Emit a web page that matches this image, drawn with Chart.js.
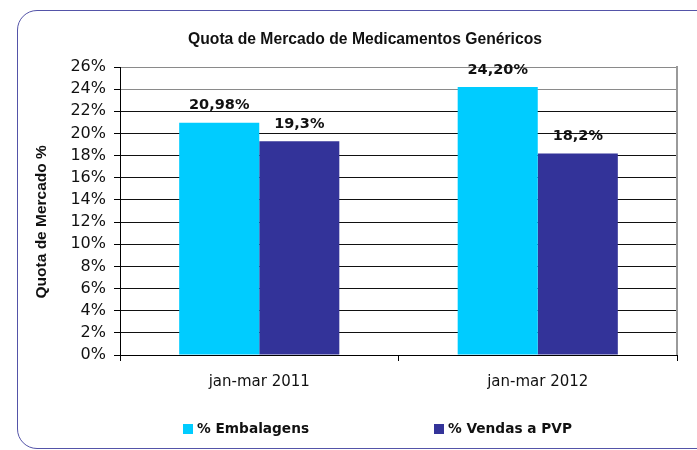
<!DOCTYPE html>
<html>
<head>
<meta charset="utf-8">
<script src="https://cdn.jsdelivr.net/npm/chart.js@4.4.0/dist/chart.umd.min.js"></script>
<style>
    html, body { margin: 0; padding: 0; background: #ffffff; overflow: hidden; }
    #frame {
        position: absolute; left: 17px; top: 10px;
        width: 720px; height: 439px; box-sizing: border-box;
        border: 1px solid #5454a8; border-radius: 20px;
    }
    #wrap { position: absolute; left: 0; top: 0; width: 730px; height: 450px; }
</style>
</head>
<body>
<div id="frame"></div>
<div id="wrap"><canvas id="quotaChart" width="730" height="450"></canvas></div>
<script>
var categories = ['jan-mar 2011', 'jan-mar 2012'];
var seriesNames = ['% Embalagens', '% Vendas a PVP'];
var embalagens = [20.98, 24.20];
var vendasPVP = [19.3, 18.2];
var embalagensLabels = ['20,98%', '24,20%'];
var vendasLabels = ['19,3%', '18,2%'];
var yMin = 0;
var yMax = 26;
var yStep = 2;

var CYAN = '#00ccff';
var NAVY = '#333399';
var FONT = "'DejaVu Sans', Verdana, sans-serif";
var ARIAL = "'Liberation Sans', Arial, sans-serif";

// value labels above each bar
var valueLabels = {
    id: 'valueLabels',
    afterDatasetsDraw: function(chart) {
        var ctx = chart.ctx;
        var texts = [embalagensLabels, vendasLabels];
        ctx.save();
        ctx.font = 'bold 14.5px ' + FONT;
        ctx.fillStyle = '#111111';
        ctx.textAlign = 'center';
        ctx.textBaseline = 'middle';
        chart.data.datasets.forEach(function(ds, i) {
            chart.getDatasetMeta(i).data.forEach(function(bar, j) {
                ctx.fillText(texts[i][j], bar.x, bar.y - 17);
            });
        });
        ctx.restore();
    }
};

// grey border on the right side of the plot area
var plotBorder = {
    id: 'plotBorder',
    afterDraw: function(chart) {
        var a = chart.chartArea;
        var ctx = chart.ctx;
        ctx.save();
        ctx.strokeStyle = '#9a9a9a';
        ctx.lineWidth = 2;
        ctx.beginPath();
        ctx.moveTo(a.right, a.top - 1);
        ctx.lineTo(a.right, a.bottom);
        ctx.stroke();
        ctx.restore();
    }
};

// legend at the bottom, items spread like the original
var bottomLegend = {
    id: 'bottomLegend',
    afterDraw: function(chart) {
        var ctx = chart.ctx;
        var starts = [183, 434];
        ctx.save();
        ctx.font = 'bold 13.7px ' + FONT;
        ctx.textBaseline = 'middle';
        ctx.textAlign = 'left';
        chart.data.datasets.forEach(function(ds, i) {
            ctx.fillStyle = ds.backgroundColor;
            ctx.fillRect(starts[i], 424, 10, 10);
            ctx.fillStyle = '#111111';
            ctx.fillText(ds.label, starts[i] + 14, 429.5);
        });
        ctx.restore();
    }
};

var ctx = document.getElementById('quotaChart').getContext('2d');
new Chart(ctx, {
    type: 'bar',
    data: {
        labels: categories,
        datasets: [{
            label: seriesNames[0],
            data: embalagens,
            backgroundColor: CYAN,
            borderWidth: 0
        }, {
            label: seriesNames[1],
            data: vendasPVP,
            backgroundColor: NAVY,
            borderWidth: 0
        }]
    },
    options: {
        responsive: false,
        animation: false,
        events: [],
        categoryPercentage: 0.575,
        barPercentage: 1,
        // left/right padding balanced so the title centres on the frame
        layout: {
            padding: { left: 53, right: 53, top: 0, bottom: 0 }
        },
        plugins: {
            legend: { display: false },
            tooltip: { enabled: false },
            title: {
                display: true,
                text: 'Quota de Mercado de Medicamentos Genéricos',
                color: '#111111',
                font: { family: ARIAL, size: 15.7, weight: 'bold' },
                padding: { top: 30, bottom: 18.2 }
            }
        },
        scales: {
            x: {
                offset: true,
                grid: {
                    offset: true,
                    drawOnChartArea: false,
                    drawTicks: true,
                    tickLength: 6,
                    color: '#000000'
                },
                border: { color: '#000000', width: 1 },
                ticks: {
                    color: '#111111',
                    padding: 12,
                    font: { family: FONT, size: 15 }
                },
                afterFit: function(scale) { scale.height = 95; }
            },
            y: {
                min: yMin,
                max: yMax,
                ticks: {
                    stepSize: yStep,
                    autoSkip: false,
                    color: '#111111',
                    padding: 8,
                    font: { family: FONT, size: 16 },
                    callback: function(v) { return v + '%'; }
                },
                grid: {
                    tickLength: 6,
                    color: function(c) {
                        if (c.tick && c.tick.value >= 24) return '#8a8a8a';
                        return '#111111';
                    },
                    tickColor: '#000000'
                },
                border: { color: '#000000', width: 1 },
                title: {
                    display: true,
                    // trailing spaces push the text a little lower, as in the original
                    text: 'Quota de Mercado %     ',
                    color: '#111111',
                    font: { family: ARIAL, size: 15.5, weight: 'bold' },
                    padding: { top: -20.3, bottom: 0 }
                },
                afterFit: function(scale) { scale.width = 67; }
            }
        }
    },
    plugins: [valueLabels, plotBorder, bottomLegend]
});
</script>
</body>
</html>
